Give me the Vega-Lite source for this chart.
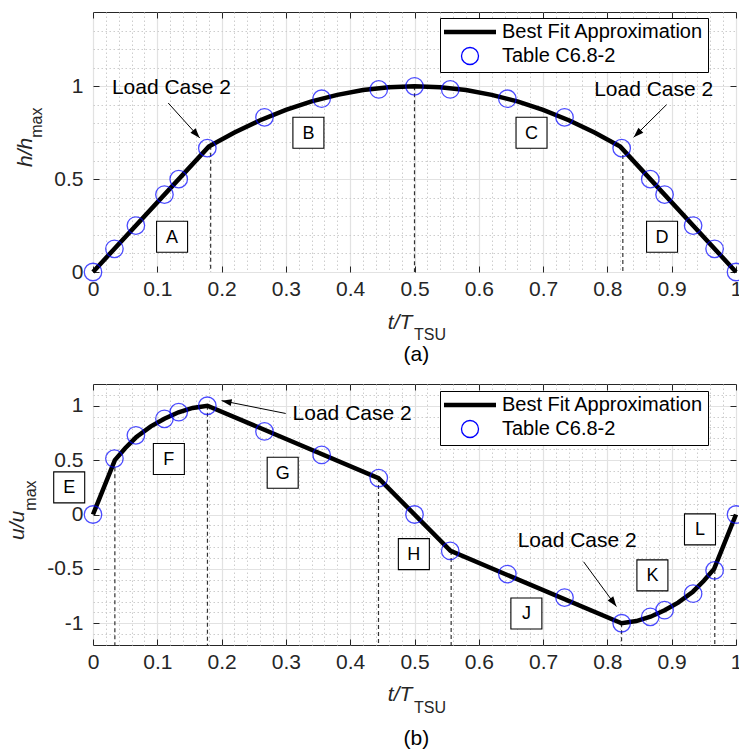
{
  "$schema": "https://vega.github.io/schema/vega-lite/v6.json",
  "padding": {"left": 6, "top": 11, "right": 0, "bottom": 0},
  "bounds": "flush",
  "spacing": 112,
  "resolve": {"scale": {"stroke": "independent", "shape": "independent"}, "legend": {"stroke": "independent", "shape": "independent"}},
  "config": {
    "font": "Liberation Sans",
    "view": {"stroke": "#262626", "strokeWidth": 1},
    "axis": {"labelFont": "Liberation Sans", "labelFontSize": 21, "labelColor": "#262626", "tickColor": "#262626", "labelFlush": false, "labelOverlap": false, "zindex": 0},
    "legend": {"title": null, "orient": "none", "legendX": 347, "strokeColor": "black", "fillColor": "white", "padding": 4, "labelFont": "Liberation Sans", "labelFontSize": 20, "labelColor": "black", "labelLimit": 400, "symbolSize": 2704, "symbolStrokeWidth": 4.5, "symbolOffset": 16, "labelOffset": 22, "rowPadding": 2},
    "text": {"font": "Liberation Sans", "color": "black"}
  },
  "datasets": {
    "pa": [
      {"t": 0, "v": 0, "s": "Table C6.8-2"}, {"t": 0.0333, "v": 0.125, "s": "Table C6.8-2"}, {"t": 0.0667, "v": 0.25, "s": "Table C6.8-2"},
      {"t": 0.1111, "v": 0.417, "s": "Table C6.8-2"}, {"t": 0.1333, "v": 0.5, "s": "Table C6.8-2"}, {"t": 0.1778, "v": 0.667, "s": "Table C6.8-2"},
      {"t": 0.2667, "v": 0.833, "s": "Table C6.8-2"}, {"t": 0.3556, "v": 0.933, "s": "Table C6.8-2"}, {"t": 0.4444, "v": 0.983, "s": "Table C6.8-2"},
      {"t": 0.5, "v": 1, "s": "Table C6.8-2"}, {"t": 0.5556, "v": 0.983, "s": "Table C6.8-2"}, {"t": 0.6444, "v": 0.933, "s": "Table C6.8-2"},
      {"t": 0.7333, "v": 0.833, "s": "Table C6.8-2"}, {"t": 0.8222, "v": 0.667, "s": "Table C6.8-2"}, {"t": 0.8667, "v": 0.5, "s": "Table C6.8-2"},
      {"t": 0.8889, "v": 0.417, "s": "Table C6.8-2"}, {"t": 0.9333, "v": 0.25, "s": "Table C6.8-2"}, {"t": 0.9667, "v": 0.125, "s": "Table C6.8-2"},
      {"t": 1, "v": 0, "s": "Table C6.8-2"}
    ],
    "fa": [
      {"t": 0, "v": 0, "s": "Best Fit Approximation"}, {"t": 0.18, "v": 0.675, "s": "Best Fit Approximation"}, {"t": 0.22, "v": 0.751, "s": "Best Fit Approximation"},
      {"t": 0.26, "v": 0.817, "s": "Best Fit Approximation"}, {"t": 0.3, "v": 0.873, "s": "Best Fit Approximation"}, {"t": 0.34, "v": 0.919, "s": "Best Fit Approximation"},
      {"t": 0.38, "v": 0.954, "s": "Best Fit Approximation"}, {"t": 0.42, "v": 0.98, "s": "Best Fit Approximation"}, {"t": 0.46, "v": 0.995, "s": "Best Fit Approximation"},
      {"t": 0.5, "v": 1, "s": "Best Fit Approximation"}, {"t": 0.54, "v": 0.995, "s": "Best Fit Approximation"}, {"t": 0.58, "v": 0.98, "s": "Best Fit Approximation"},
      {"t": 0.62, "v": 0.954, "s": "Best Fit Approximation"}, {"t": 0.66, "v": 0.919, "s": "Best Fit Approximation"}, {"t": 0.7, "v": 0.873, "s": "Best Fit Approximation"},
      {"t": 0.74, "v": 0.817, "s": "Best Fit Approximation"}, {"t": 0.78, "v": 0.751, "s": "Best Fit Approximation"}, {"t": 0.82, "v": 0.675, "s": "Best Fit Approximation"},
      {"t": 1, "v": 0, "s": "Best Fit Approximation"}
    ],
    "da": [{"t": 0.183, "v": 0.68, "v2": 0}, {"t": 0.5, "v": 1, "v2": 0}, {"t": 0.824, "v": 0.668, "v2": 0}],
    "ba": [{"t": 0.123, "v": 0.19, "label": "A"}, {"t": 0.335, "v": 0.75, "label": "B"}, {"t": 0.682, "v": 0.75, "label": "C"}, {"t": 0.885, "v": 0.19, "label": "D"}],
    "la": [{"t": 0.122, "v": 0.989, "label": "Load Case 2"}, {"t": 0.872, "v": 0.978, "label": "Load Case 2"}],
    "aa": [{"id": 1, "t": 0.117, "v": 0.91, "t2": 0.166, "v2": 0.722}, {"id": 2, "t": 0.892, "v": 0.901, "t2": 0.841, "v2": 0.726}],
    "pb": [
      {"t": 0, "v": 0, "s": "Table C6.8-2"}, {"t": 0.0333, "v": 0.514, "s": "Table C6.8-2"}, {"t": 0.0667, "v": 0.728, "s": "Table C6.8-2"},
      {"t": 0.1111, "v": 0.88, "s": "Table C6.8-2"}, {"t": 0.1333, "v": 0.941, "s": "Table C6.8-2"}, {"t": 0.1778, "v": 1, "s": "Table C6.8-2"},
      {"t": 0.2667, "v": 0.764, "s": "Table C6.8-2"}, {"t": 0.3556, "v": 0.548, "s": "Table C6.8-2"}, {"t": 0.4444, "v": 0.335, "s": "Table C6.8-2"},
      {"t": 0.5, "v": 0, "s": "Table C6.8-2"}, {"t": 0.5556, "v": -0.335, "s": "Table C6.8-2"}, {"t": 0.6444, "v": -0.548, "s": "Table C6.8-2"},
      {"t": 0.7333, "v": -0.764, "s": "Table C6.8-2"}, {"t": 0.8222, "v": -1, "s": "Table C6.8-2"}, {"t": 0.8667, "v": -0.941, "s": "Table C6.8-2"},
      {"t": 0.8889, "v": -0.88, "s": "Table C6.8-2"}, {"t": 0.9333, "v": -0.728, "s": "Table C6.8-2"}, {"t": 0.9667, "v": -0.514, "s": "Table C6.8-2"},
      {"t": 1, "v": 0, "s": "Table C6.8-2"}
    ],
    "fb": [
      {"t": 0, "v": 0, "s": "Best Fit Approximation"}, {"t": 0.034, "v": 0.5, "s": "Best Fit Approximation"}, {"t": 0.05, "v": 0.61, "s": "Best Fit Approximation"},
      {"t": 0.067, "v": 0.71, "s": "Best Fit Approximation"}, {"t": 0.09, "v": 0.81, "s": "Best Fit Approximation"}, {"t": 0.111, "v": 0.88, "s": "Best Fit Approximation"},
      {"t": 0.133, "v": 0.94, "s": "Best Fit Approximation"}, {"t": 0.155, "v": 0.98, "s": "Best Fit Approximation"}, {"t": 0.178, "v": 1, "s": "Best Fit Approximation"},
      {"t": 0.444, "v": 0.335, "s": "Best Fit Approximation"}, {"t": 0.556, "v": -0.335, "s": "Best Fit Approximation"}, {"t": 0.822, "v": -1, "s": "Best Fit Approximation"},
      {"t": 0.845, "v": -0.98, "s": "Best Fit Approximation"}, {"t": 0.867, "v": -0.94, "s": "Best Fit Approximation"}, {"t": 0.889, "v": -0.88, "s": "Best Fit Approximation"},
      {"t": 0.91, "v": -0.81, "s": "Best Fit Approximation"}, {"t": 0.933, "v": -0.71, "s": "Best Fit Approximation"}, {"t": 0.95, "v": -0.61, "s": "Best Fit Approximation"},
      {"t": 0.966, "v": -0.5, "s": "Best Fit Approximation"}, {"t": 1, "v": 0, "s": "Best Fit Approximation"}
    ],
    "db": [{"t": 0.034, "v": 0.5, "v2": -1.2}, {"t": 0.178, "v": 1, "v2": -1.2}, {"t": 0.444, "v": 0.335, "v2": -1.2}, {"t": 0.557, "v": -0.335, "v2": -1.2}, {"t": 0.822, "v": -1, "v2": -1.2}, {"t": 0.967, "v": -0.51, "v2": -1.2}],
    "bb": [{"t": -0.037, "v": 0.249, "label": "E"}, {"t": 0.118, "v": 0.51, "label": "F"}, {"t": 0.295, "v": 0.384, "label": "G"}, {"t": 0.499, "v": -0.364, "label": "H"}, {"t": 0.674, "v": -0.91, "label": "J"}, {"t": 0.87, "v": -0.56, "label": "K"}, {"t": 0.944, "v": -0.137, "label": "L"}],
    "lb": [{"t": 0.403, "v": 0.924, "label": "Load Case 2"}, {"t": 0.753, "v": -0.247, "label": "Load Case 2"}],
    "ab": [{"id": 1, "t": 0.2997, "v": 0.929, "t2": 0.2, "v2": 1.047}, {"id": 2, "t": 0.763, "v": -0.435, "t2": 0.814, "v2": -0.846}]
  },
  "vconcat": [
    {
      "width": 643, "height": 260,
      "resolve": {"axis": {"x": "independent", "y": "independent"}},
      "layer": [
        {
          "data": {"name": "pa"}, "mark": {"type": "point", "opacity": 0},
          "encoding": {
            "x": {"field": "t", "type": "quantitative", "scale": {"domain": [0, 1], "nice": false, "zero": false},
              "axis": {"orient": "bottom", "values": [0.02,0.04,0.06,0.08,0.12,0.14,0.16,0.18,0.22,0.24,0.26,0.28,0.32,0.34,0.36,0.38,0.42,0.44,0.46,0.48,0.52,0.54,0.56,0.58,0.62,0.64,0.66,0.68,0.72,0.74,0.76,0.78,0.82,0.84,0.86,0.88,0.92,0.94,0.96,0.98], "grid": true, "gridDash": [1.5, 2.5], "gridColor": "#cdcdcd", "labels": false, "ticks": false, "domain": false, "title": null}},
            "y": {"field": "v", "type": "quantitative", "scale": {"domain": [0, 1.4], "nice": false, "zero": false},
              "axis": {"orient": "left", "values": [0.1,0.2,0.3,0.4,0.6,0.7,0.8,0.9,1.1,1.2,1.3], "grid": true, "gridDash": [1.5, 2.5], "gridColor": "#cdcdcd", "labels": false, "ticks": false, "domain": false, "title": null}}
          }
        },
        {
          "data": {"name": "pa"}, "mark": {"type": "point", "opacity": 0},
          "encoding": {
            "x": {"field": "t", "type": "quantitative", "scale": {"domain": [0, 1], "nice": false, "zero": false},
              "axis": {"orient": "bottom", "values": [0,0.1,0.2,0.3,0.4,0.5,0.6,0.7,0.8,0.9,1], "grid": true, "gridColor": "#e2e2e2", "gridWidth": 1.2, "ticks": true, "tickSize": -6, "labelPadding": 12, "labelExpr": "'' + datum.value", "domain": false, "title": null}},
            "y": {"field": "v", "type": "quantitative", "scale": {"domain": [0, 1.4], "nice": false, "zero": false},
              "axis": {"orient": "left", "values": [0, 0.5, 1], "grid": true, "gridColor": "#e2e2e2", "gridWidth": 1.2, "ticks": true, "tickSize": -6, "labelPadding": 16, "labelExpr": "'' + datum.value", "domain": false, "title": null}}
          }
        },
        {
          "data": {"name": "pa"}, "mark": {"type": "point", "opacity": 0},
          "encoding": {
            "x": {"field": "t", "type": "quantitative", "axis": {"orient": "top", "values": [0,0.1,0.2,0.3,0.4,0.5,0.6,0.7,0.8,0.9,1], "grid": false, "ticks": true, "tickSize": -6, "labels": false, "domain": false, "title": null}},
            "y": {"field": "v", "type": "quantitative", "axis": {"orient": "right", "values": [0, 0.5, 1], "grid": false, "ticks": true, "tickSize": -6, "labels": false, "domain": false, "title": null}}
          }
        },
        {
          "data": {"name": "da"}, "mark": {"type": "rule", "strokeDash": [4, 3], "color": "#333333", "strokeWidth": 1.2},
          "encoding": {"x": {"field": "t", "type": "quantitative", "axis": null}, "y": {"field": "v", "type": "quantitative", "axis": null}, "y2": {"field": "v2"}}
        },
        {
          "data": {"name": "fa"}, "mark": {"type": "line", "strokeWidth": 4.5},
          "encoding": {
            "x": {"field": "t", "type": "quantitative", "axis": null}, "y": {"field": "v", "type": "quantitative", "axis": null},
            "stroke": {"field": "s", "type": "nominal", "scale": {"domain": ["Best Fit Approximation", "Table C6.8-2"], "range": ["black", "#0000ff"]},
              "legend": {"legendY": 6, "encode": {"symbols": {"update": {"size": {"signal": "datum.value === 'Table C6.8-2' ? 290 : 2704"}, "strokeWidth": {"signal": "datum.value === 'Table C6.8-2' ? 1.3 : 4.5"}}}}}}
          }
        },
        {
          "data": {"name": "pa"}, "mark": {"type": "point", "filled": false, "size": 306, "strokeWidth": 1.3},
          "encoding": {
            "x": {"field": "t", "type": "quantitative", "axis": null}, "y": {"field": "v", "type": "quantitative", "axis": null},
            "stroke": {"field": "s", "type": "nominal", "scale": {"domain": ["Best Fit Approximation", "Table C6.8-2"], "range": ["black", "#0000ff"]},
              "legend": {"legendY": 6, "encode": {"symbols": {"update": {"size": {"signal": "datum.value === 'Table C6.8-2' ? 290 : 2704"}, "strokeWidth": {"signal": "datum.value === 'Table C6.8-2' ? 1.3 : 4.5"}}}}}},
            "shape": {"field": "s", "type": "nominal", "scale": {"domain": ["Best Fit Approximation", "Table C6.8-2"], "range": ["stroke", "circle"]},
              "legend": {"legendY": 6, "encode": {"symbols": {"update": {"size": {"signal": "datum.value === 'Table C6.8-2' ? 290 : 2704"}, "strokeWidth": {"signal": "datum.value === 'Table C6.8-2' ? 1.3 : 4.5"}}}}}}
          }
        },
        {
          "data": {"name": "ba"}, "mark": {"type": "point", "shape": "square", "size": 961, "filled": true, "fill": "white", "stroke": "black", "strokeWidth": 1.1, "opacity": 1},
          "encoding": {"x": {"field": "t", "type": "quantitative", "axis": null}, "y": {"field": "v", "type": "quantitative", "axis": null}}
        },
        {
          "data": {"name": "ba"}, "mark": {"type": "text", "fontSize": 18, "baseline": "middle", "align": "center", "dy": 1},
          "encoding": {"x": {"field": "t", "type": "quantitative", "axis": null}, "y": {"field": "v", "type": "quantitative", "axis": null}, "text": {"field": "label"}}
        },
        {
          "data": {"name": "la"}, "mark": {"type": "text", "fontSize": 21, "baseline": "middle", "align": "center"},
          "encoding": {"x": {"field": "t", "type": "quantitative", "axis": null}, "y": {"field": "v", "type": "quantitative", "axis": null}, "text": {"field": "label"}}
        },
        {
          "data": {"name": "aa"}, "mark": {"type": "rule", "color": "black", "strokeWidth": 1},
          "encoding": {"x": {"field": "t", "type": "quantitative", "axis": null}, "y": {"field": "v", "type": "quantitative", "axis": null}, "x2": {"field": "t2"}, "y2": {"field": "v2"}}
        },
        {
          "data": {"name": "aa"}, "transform": [{"filter": "datum.id == 1"}],
          "mark": {"type": "point", "shape": "M0,0L-0.7,2L0.7,2Z", "filled": true, "color": "black", "size": 100, "angle": 137.9, "opacity": 1},
          "encoding": {"x": {"field": "t2", "type": "quantitative", "axis": null}, "y": {"field": "v2", "type": "quantitative", "axis": null}}
        },
        {
          "data": {"name": "aa"}, "transform": [{"filter": "datum.id == 2"}],
          "mark": {"type": "point", "shape": "M0,0L-0.7,2L0.7,2Z", "filled": true, "color": "black", "size": 100, "angle": 225.3, "opacity": 1},
          "encoding": {"x": {"field": "t2", "type": "quantitative", "axis": null}, "y": {"field": "v2", "type": "quantitative", "axis": null}}
        },
        {
          "data": {"values": [{"t": 0.4966, "v": -0.308, "label": "t/T"}]}, "mark": {"type": "text", "fontSize": 21, "fontStyle": "italic", "align": "right", "baseline": "alphabetic", "color": "#262626"},
          "encoding": {"x": {"field": "t", "type": "quantitative", "axis": null}, "y": {"field": "v", "type": "quantitative", "axis": null}, "text": {"field": "label"}}
        },
        {
          "data": {"values": [{"t": 0.4992, "v": -0.366, "label": "TSU"}]}, "mark": {"type": "text", "fontSize": 16, "align": "left", "baseline": "alphabetic", "color": "#262626"},
          "encoding": {"x": {"field": "t", "type": "quantitative", "axis": null}, "y": {"field": "v", "type": "quantitative", "axis": null}, "text": {"field": "label"}}
        },
        {
          "data": {"values": [{"t": 0.503, "v": -0.445, "label": "(a)"}]}, "mark": {"type": "text", "fontSize": 21, "align": "center", "baseline": "middle"},
          "encoding": {"x": {"field": "t", "type": "quantitative", "axis": null}, "y": {"field": "v", "type": "quantitative", "axis": null}, "text": {"field": "label"}}
        },
        {
          "data": {"values": [{"t": -0.0944, "v": 0.723, "label": "h/h"}]}, "mark": {"type": "text", "fontSize": 21, "fontStyle": "italic", "angle": 270, "align": "right", "baseline": "alphabetic", "color": "#262626"},
          "encoding": {"x": {"field": "t", "type": "quantitative", "axis": null}, "y": {"field": "v", "type": "quantitative", "axis": null}, "text": {"field": "label"}}
        },
        {
          "data": {"values": [{"t": -0.0788, "v": 0.723, "label": "max"}]}, "mark": {"type": "text", "fontSize": 16, "angle": 270, "align": "left", "baseline": "alphabetic", "color": "#262626"},
          "encoding": {"x": {"field": "t", "type": "quantitative", "axis": null}, "y": {"field": "v", "type": "quantitative", "axis": null}, "text": {"field": "label"}}
        }
      ]
    },
    {
      "width": 643, "height": 261,
      "resolve": {"axis": {"x": "independent", "y": "independent"}},
      "layer": [
        {
          "data": {"name": "pb"}, "mark": {"type": "point", "opacity": 0},
          "encoding": {
            "x": {"field": "t", "type": "quantitative", "scale": {"domain": [0, 1], "nice": false, "zero": false},
              "axis": {"orient": "bottom", "values": [0.02,0.04,0.06,0.08,0.12,0.14,0.16,0.18,0.22,0.24,0.26,0.28,0.32,0.34,0.36,0.38,0.42,0.44,0.46,0.48,0.52,0.54,0.56,0.58,0.62,0.64,0.66,0.68,0.72,0.74,0.76,0.78,0.82,0.84,0.86,0.88,0.92,0.94,0.96,0.98], "grid": true, "gridDash": [1.5, 2.5], "gridColor": "#cdcdcd", "labels": false, "ticks": false, "domain": false, "title": null}},
            "y": {"field": "v", "type": "quantitative", "scale": {"domain": [-1.2, 1.2], "nice": false, "zero": false},
              "axis": {"orient": "left", "values": [-1.1,-0.9,-0.8,-0.7,-0.6,-0.4,-0.3,-0.2,-0.1,0.1,0.2,0.3,0.4,0.6,0.7,0.8,0.9,1.1], "grid": true, "gridDash": [1.5, 2.5], "gridColor": "#cdcdcd", "labels": false, "ticks": false, "domain": false, "title": null}}
          }
        },
        {
          "data": {"name": "pb"}, "mark": {"type": "point", "opacity": 0},
          "encoding": {
            "x": {"field": "t", "type": "quantitative", "scale": {"domain": [0, 1], "nice": false, "zero": false},
              "axis": {"orient": "bottom", "values": [0,0.1,0.2,0.3,0.4,0.5,0.6,0.7,0.8,0.9,1], "grid": true, "gridColor": "#e2e2e2", "gridWidth": 1.2, "ticks": true, "tickSize": -6, "labelPadding": 12, "labelExpr": "'' + datum.value", "domain": false, "title": null}},
            "y": {"field": "v", "type": "quantitative", "scale": {"domain": [-1.2, 1.2], "nice": false, "zero": false},
              "axis": {"orient": "left", "values": [-1, -0.5, 0, 0.5, 1], "grid": true, "gridColor": "#e2e2e2", "gridWidth": 1.2, "ticks": true, "tickSize": -6, "labelPadding": 16, "labelExpr": "'' + datum.value", "domain": false, "title": null}}
          }
        },
        {
          "data": {"name": "pb"}, "mark": {"type": "point", "opacity": 0},
          "encoding": {
            "x": {"field": "t", "type": "quantitative", "axis": {"orient": "top", "values": [0,0.1,0.2,0.3,0.4,0.5,0.6,0.7,0.8,0.9,1], "grid": false, "ticks": true, "tickSize": -6, "labels": false, "domain": false, "title": null}},
            "y": {"field": "v", "type": "quantitative", "axis": {"orient": "right", "values": [-1, -0.5, 0, 0.5, 1], "grid": false, "ticks": true, "tickSize": -6, "labels": false, "domain": false, "title": null}}
          }
        },
        {
          "data": {"name": "db"}, "mark": {"type": "rule", "strokeDash": [4, 3], "color": "#333333", "strokeWidth": 1.2},
          "encoding": {"x": {"field": "t", "type": "quantitative", "axis": null}, "y": {"field": "v", "type": "quantitative", "axis": null}, "y2": {"field": "v2"}}
        },
        {
          "data": {"name": "fb"}, "mark": {"type": "line", "strokeWidth": 4.5},
          "encoding": {
            "x": {"field": "t", "type": "quantitative", "axis": null}, "y": {"field": "v", "type": "quantitative", "axis": null},
            "stroke": {"field": "s", "type": "nominal", "scale": {"domain": ["Best Fit Approximation", "Table C6.8-2"], "range": ["black", "#0000ff"]},
              "legend": {"legendY": 7, "encode": {"symbols": {"update": {"size": {"signal": "datum.value === 'Table C6.8-2' ? 290 : 2704"}, "strokeWidth": {"signal": "datum.value === 'Table C6.8-2' ? 1.3 : 4.5"}}}}}}
          }
        },
        {
          "data": {"name": "pb"}, "mark": {"type": "point", "filled": false, "size": 306, "strokeWidth": 1.3},
          "encoding": {
            "x": {"field": "t", "type": "quantitative", "axis": null}, "y": {"field": "v", "type": "quantitative", "axis": null},
            "stroke": {"field": "s", "type": "nominal", "scale": {"domain": ["Best Fit Approximation", "Table C6.8-2"], "range": ["black", "#0000ff"]},
              "legend": {"legendY": 7, "encode": {"symbols": {"update": {"size": {"signal": "datum.value === 'Table C6.8-2' ? 290 : 2704"}, "strokeWidth": {"signal": "datum.value === 'Table C6.8-2' ? 1.3 : 4.5"}}}}}},
            "shape": {"field": "s", "type": "nominal", "scale": {"domain": ["Best Fit Approximation", "Table C6.8-2"], "range": ["stroke", "circle"]},
              "legend": {"legendY": 7, "encode": {"symbols": {"update": {"size": {"signal": "datum.value === 'Table C6.8-2' ? 290 : 2704"}, "strokeWidth": {"signal": "datum.value === 'Table C6.8-2' ? 1.3 : 4.5"}}}}}}
          }
        },
        {
          "data": {"name": "bb"}, "mark": {"type": "point", "shape": "square", "size": 961, "filled": true, "fill": "white", "stroke": "black", "strokeWidth": 1.1, "opacity": 1},
          "encoding": {"x": {"field": "t", "type": "quantitative", "axis": null}, "y": {"field": "v", "type": "quantitative", "axis": null}}
        },
        {
          "data": {"name": "bb"}, "mark": {"type": "text", "fontSize": 18, "baseline": "middle", "align": "center", "dy": 1},
          "encoding": {"x": {"field": "t", "type": "quantitative", "axis": null}, "y": {"field": "v", "type": "quantitative", "axis": null}, "text": {"field": "label"}}
        },
        {
          "data": {"name": "lb"}, "mark": {"type": "text", "fontSize": 21, "baseline": "middle", "align": "center"},
          "encoding": {"x": {"field": "t", "type": "quantitative", "axis": null}, "y": {"field": "v", "type": "quantitative", "axis": null}, "text": {"field": "label"}}
        },
        {
          "data": {"name": "ab"}, "mark": {"type": "rule", "color": "black", "strokeWidth": 1},
          "encoding": {"x": {"field": "t", "type": "quantitative", "axis": null}, "y": {"field": "v", "type": "quantitative", "axis": null}, "x2": {"field": "t2"}, "y2": {"field": "v2"}}
        },
        {
          "data": {"name": "ab"}, "transform": [{"filter": "datum.id == 1"}],
          "mark": {"type": "point", "shape": "M0,0L-0.7,2L0.7,2Z", "filled": true, "color": "black", "size": 100, "angle": 281.3, "opacity": 1},
          "encoding": {"x": {"field": "t2", "type": "quantitative", "axis": null}, "y": {"field": "v2", "type": "quantitative", "axis": null}}
        },
        {
          "data": {"name": "ab"}, "transform": [{"filter": "datum.id == 2"}],
          "mark": {"type": "point", "shape": "M0,0L-0.7,2L0.7,2Z", "filled": true, "color": "black", "size": 100, "angle": 143.7, "opacity": 1},
          "encoding": {"x": {"field": "t2", "type": "quantitative", "axis": null}, "y": {"field": "v2", "type": "quantitative", "axis": null}}
        },
        {
          "data": {"values": [{"t": 0.4966, "v": -1.712, "label": "t/T"}]}, "mark": {"type": "text", "fontSize": 21, "fontStyle": "italic", "align": "right", "baseline": "alphabetic", "color": "#262626"},
          "encoding": {"x": {"field": "t", "type": "quantitative", "axis": null}, "y": {"field": "v", "type": "quantitative", "axis": null}, "text": {"field": "label"}}
        },
        {
          "data": {"values": [{"t": 0.4992, "v": -1.825, "label": "TSU"}]}, "mark": {"type": "text", "fontSize": 16, "align": "left", "baseline": "alphabetic", "color": "#262626"},
          "encoding": {"x": {"field": "t", "type": "quantitative", "axis": null}, "y": {"field": "v", "type": "quantitative", "axis": null}, "text": {"field": "label"}}
        },
        {
          "data": {"values": [{"t": 0.503, "v": -2.06, "label": "(b)"}]}, "mark": {"type": "text", "fontSize": 21, "align": "center", "baseline": "middle"},
          "encoding": {"x": {"field": "t", "type": "quantitative", "axis": null}, "y": {"field": "v", "type": "quantitative", "axis": null}, "text": {"field": "label"}}
        },
        {
          "data": {"values": [{"t": -0.1073, "v": 0.035, "label": "u/u"}]}, "mark": {"type": "text", "fontSize": 21, "fontStyle": "italic", "angle": 270, "align": "right", "baseline": "alphabetic", "color": "#262626"},
          "encoding": {"x": {"field": "t", "type": "quantitative", "axis": null}, "y": {"field": "v", "type": "quantitative", "axis": null}, "text": {"field": "label"}}
        },
        {
          "data": {"values": [{"t": -0.0891, "v": 0.035, "label": "max"}]}, "mark": {"type": "text", "fontSize": 16, "angle": 270, "align": "left", "baseline": "alphabetic", "color": "#262626"},
          "encoding": {"x": {"field": "t", "type": "quantitative", "axis": null}, "y": {"field": "v", "type": "quantitative", "axis": null}, "text": {"field": "label"}}
        }
      ]
    }
  ]
}
